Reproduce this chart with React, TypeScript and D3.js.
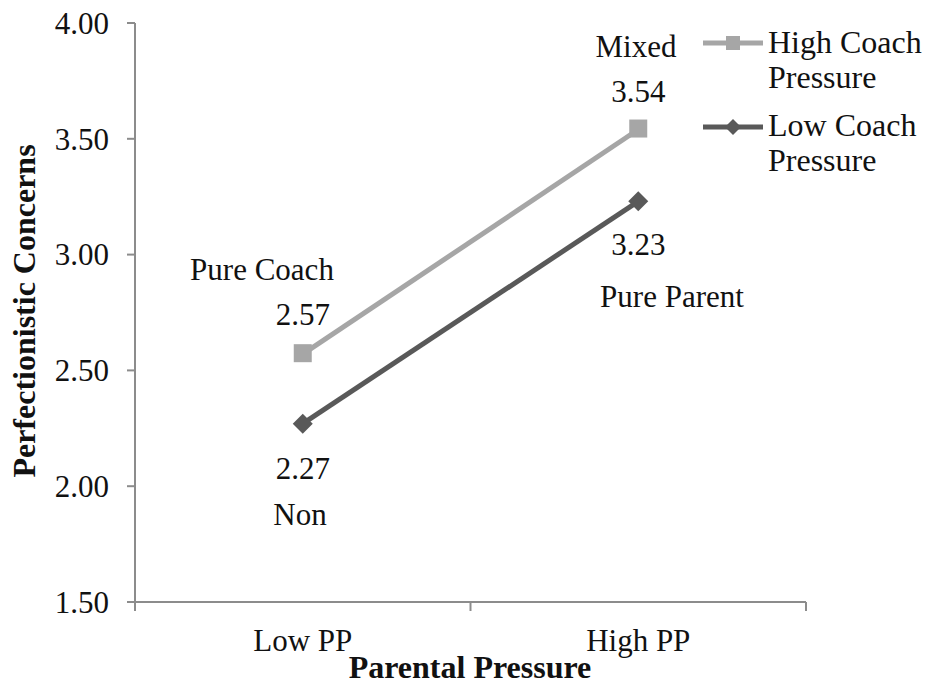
import React from "react";
import * as d3 from "d3";

const categories = ["Low PP", "High PP"];
const highCoach = [2.57, 3.54];
const lowCoach = [2.27, 3.23];
const yTicks = [1.5, 2.0, 2.5, 3.0, 3.5, 4.0];
const highLabels = ["Pure Coach", "Mixed"];
const lowLabels = ["Non", "Pure Parent"];
const seriesNames = ["High Coach Pressure", "Low Coach Pressure"];

const FONT = "'Liberation Serif', 'Times New Roman', serif";
const LIGHT = "#A6A6A6";
const DARK = "#595959";
const AXIS = "#8c8c8c";
const TEXT = "#111";

export default function App() {
  const W = 932, H = 689;
  const x = d3.scaleBand<string>().domain(categories).range([135, 806]);
  const y = d3.scaleLinear().domain([1.5, 4]).range([602, 23]);
  const cx = (c: string) => (x(c) as number) + x.bandwidth() / 2;
  const line = d3.line<[number, number]>().x(d => d[0]).y(d => d[1]);
  const hiPts: [number, number][] = categories.map((c, i) => [cx(c), y(highCoach[i])]);
  const loPts: [number, number][] = categories.map((c, i) => [cx(c), y(lowCoach[i])]);
  const diamond = (px: number, py: number, r: number) =>
    `M${px},${py - r}L${px + r},${py}L${px},${py + r}L${px - r},${py}Z`;
  const bandEdges = [135, ...categories.map(c => (x(c) as number) + x.bandwidth())];

  return (
    <svg width={W} height={H} style={{ position: "absolute", left: 0, top: 0, background: "#fff" }} fontFamily={FONT}>
      <rect x={0} y={0} width={W} height={H} fill="#fff" />
      {/* y axis */}
      <line x1={135} x2={135} y1={y(4)} y2={y(1.5)} stroke={AXIS} strokeWidth={2} />
      {yTicks.map(t => (
        <g key={t}>
          <line x1={127} x2={135} y1={y(t)} y2={y(t)} stroke={AXIS} strokeWidth={2} />
          <text x={109} y={y(t)} dy="0.35em" textAnchor="end" fontSize={31} fill={TEXT}>{t.toFixed(2)}</text>
        </g>
      ))}
      {/* x axis */}
      <line x1={127} x2={806} y1={y(1.5)} y2={y(1.5)} stroke={AXIS} strokeWidth={2} />
      {bandEdges.map((e, i) => (
        <line key={i} x1={e} x2={e} y1={y(1.5)} y2={y(1.5) + 9} stroke={AXIS} strokeWidth={2} />
      ))}
      {categories.map(c => (
        <text key={c} x={cx(c)} y={651} textAnchor="middle" fontSize={31} fill={TEXT}>{c}</text>
      ))}
      {/* axis titles */}
      <text x={470} y={678} textAnchor="middle" fontSize={32} fontWeight="bold" fill={TEXT}>Parental Pressure</text>
      <text transform="translate(35,311) rotate(-90)" textAnchor="middle" fontSize={32} fontWeight="bold" fill={TEXT}>Perfectionistic Concerns</text>
      {/* lines */}
      <path d={line(hiPts) as string} fill="none" stroke={LIGHT} strokeWidth={5} />
      <path d={line(loPts) as string} fill="none" stroke={DARK} strokeWidth={5} />
      {hiPts.map((p, i) => (
        <rect key={i} x={p[0] - 9} y={p[1] - 10} width={18} height={18} fill={LIGHT} />
      ))}
      {loPts.map((p, i) => (
        <path key={i} d={diamond(p[0], p[1], 10)} fill={DARK} />
      ))}
      {/* annotations */}
      <text x={262} y={280} textAnchor="middle" fontSize={31} fill={TEXT}>{highLabels[0]}</text>
      <text x={cx(categories[0])} y={325} textAnchor="middle" fontSize={31} fill={TEXT}>{highCoach[0].toFixed(2)}</text>
      <text x={cx(categories[0])} y={479} textAnchor="middle" fontSize={31} fill={TEXT}>{lowCoach[0].toFixed(2)}</text>
      <text x={300} y={525} textAnchor="middle" fontSize={31} fill={TEXT}>{lowLabels[0]}</text>
      <text x={636} y={57} textAnchor="middle" fontSize={31} fill={TEXT}>{highLabels[1]}</text>
      <text x={cx(categories[1])} y={102} textAnchor="middle" fontSize={31} fill={TEXT}>{highCoach[1].toFixed(2)}</text>
      <text x={cx(categories[1])} y={255} textAnchor="middle" fontSize={31} fill={TEXT}>{lowCoach[1].toFixed(2)}</text>
      <text x={672} y={307} textAnchor="middle" fontSize={31} fill={TEXT}>{lowLabels[1]}</text>
      {/* legend */}
      <g>
        <line x1={703} x2={763} y1={43} y2={43} stroke={LIGHT} strokeWidth={5} />
        <rect x={733 - 7} y={43 - 7} width={14} height={14} fill={LIGHT} />
        <text x={768} y={53} fontSize={32} fill={TEXT}>{seriesNames[0].split(" ").slice(0, 2).join(" ")}</text>
        <text x={768} y={88} fontSize={32} fill={TEXT}>{seriesNames[0].split(" ").slice(2).join(" ")}</text>
        <line x1={703} x2={763} y1={127} y2={127} stroke={DARK} strokeWidth={5} />
        <path d={diamond(733, 127, 8)} fill={DARK} />
        <text x={768} y={136} fontSize={32} fill={TEXT}>{seriesNames[1].split(" ").slice(0, 2).join(" ")}</text>
        <text x={768} y={171} fontSize={32} fill={TEXT}>{seriesNames[1].split(" ").slice(2).join(" ")}</text>
      </g>
    </svg>
  );
}
